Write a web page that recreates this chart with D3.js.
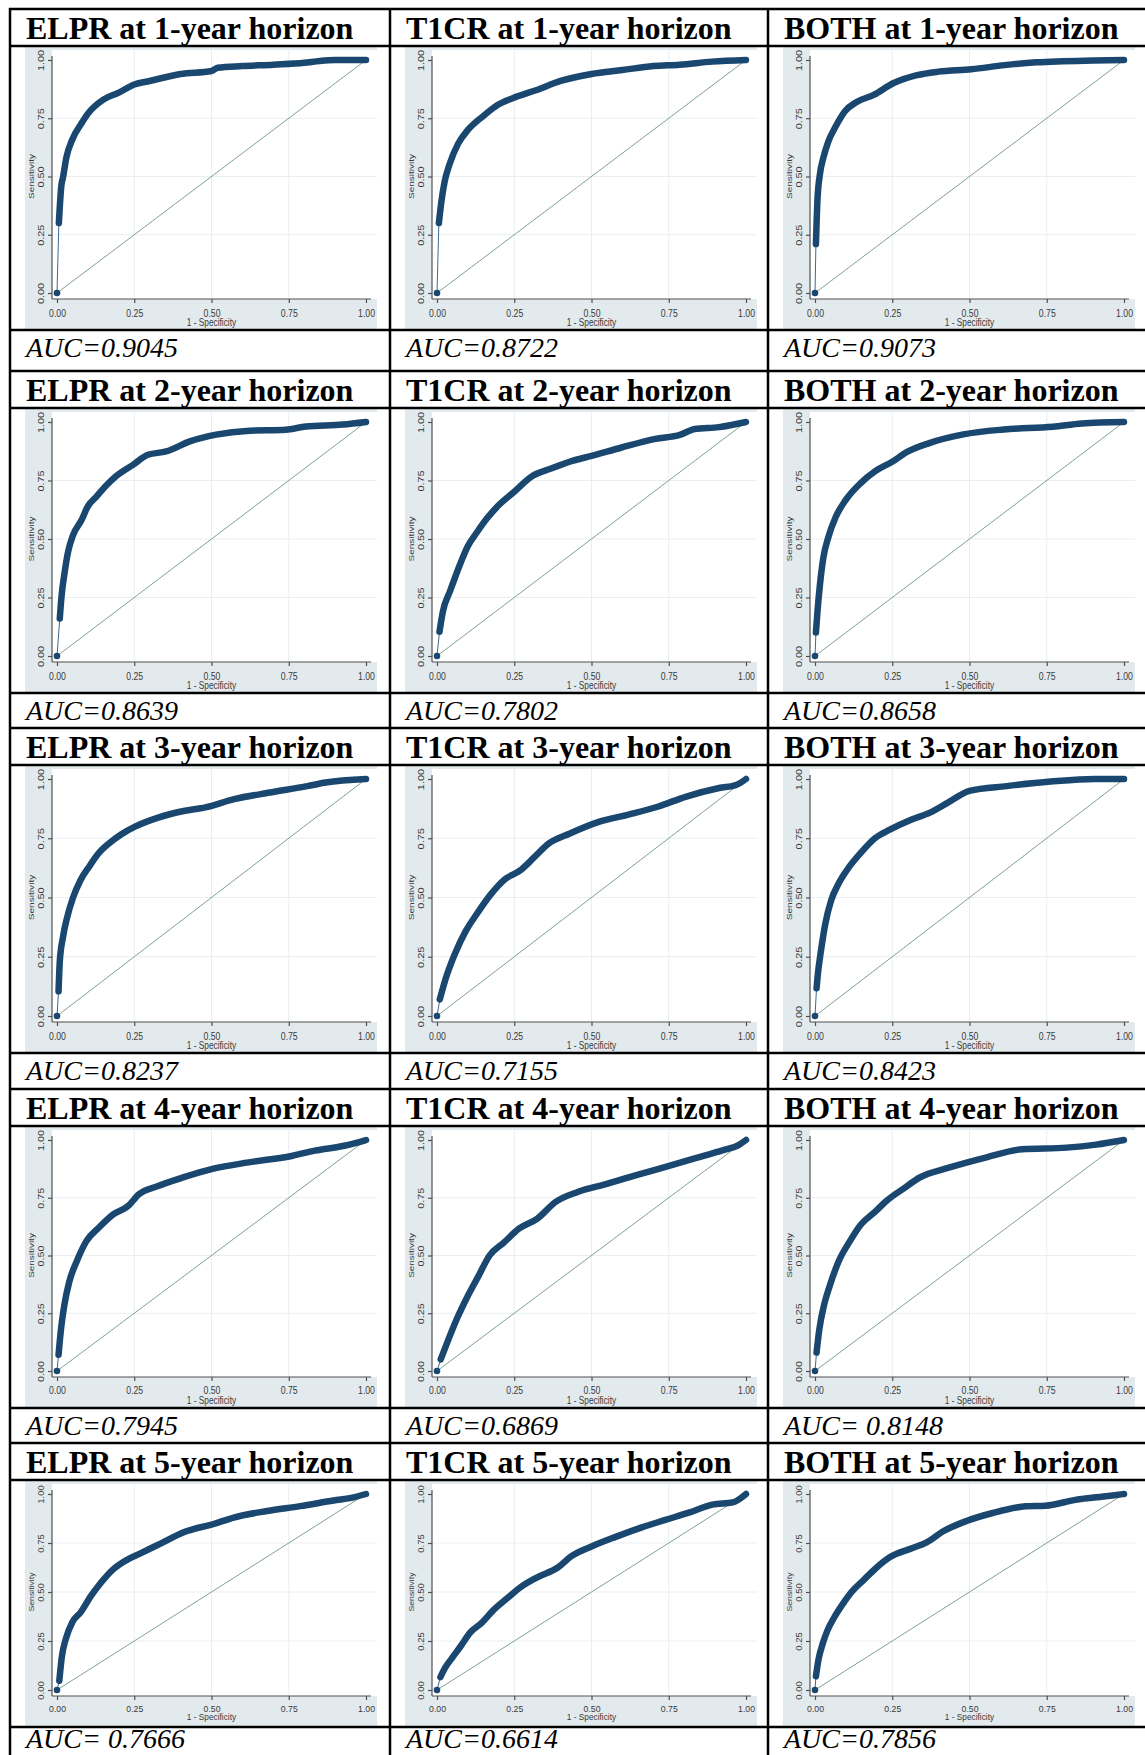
<!DOCTYPE html>
<html>
<head>
<meta charset="utf-8">
<script src="https://cdn.jsdelivr.net/npm/d3@7"></script>
<style>
  body { margin: 0; background: #fff; }
  svg { display: block; }
</style>
</head>
<body>
<div id="chart"></div>
<script>
// headings of the table
var models = ["ELPR", "T1CR", "BOTH"];
var horizons = [1, 2, 3, 4, 5];
var aucLabels = [
    "AUC=0.9045", "AUC=0.8722", "AUC=0.9073",
    "AUC=0.8639", "AUC=0.7802", "AUC=0.8658",
    "AUC=0.8237", "AUC=0.7155", "AUC=0.8423",
    "AUC=0.7945", "AUC=0.6869", "AUC= 0.8148",
    "AUC= 0.7666", "AUC=0.6614", "AUC=0.7856"
];
var tickValues = [0, 0.25, 0.5, 0.75, 1];
var tickLabels = ["0.00", "0.25", "0.50", "0.75", "1.00"];

// ROC curves, [1 - specificity, sensitivity]
var elpr1 = [[0,0],[0.006,0.30],[0.014,0.46],[0.02,0.50],[0.03,0.58],[0.05,0.66],[0.08,0.73],[0.10,0.77],[0.15,0.83],[0.20,0.86],[0.25,0.895],[0.30,0.91],[0.40,0.94],[0.50,0.953],[0.52,0.967],[0.60,0.974],[0.70,0.98],[0.80,0.988],[0.85,0.996],[0.90,1],[1,1]];
var t1cr1 = [[0,0],[0.006,0.30],[0.014,0.39],[0.025,0.48],[0.04,0.55],[0.068,0.64],[0.10,0.70],[0.15,0.76],[0.20,0.81],[0.245,0.836],[0.32,0.87],[0.40,0.91],[0.50,0.94],[0.60,0.957],[0.70,0.974],[0.785,0.98],[0.89,0.993],[1,1]];
var both1 = [[0,0],[0.003,0.21],[0.008,0.40],[0.016,0.51],[0.027,0.58],[0.043,0.65],[0.065,0.71],[0.097,0.78],[0.135,0.82],[0.19,0.85],[0.253,0.90],[0.33,0.935],[0.40,0.95],[0.506,0.96],[0.614,0.978],[0.717,0.99],[0.90,0.998],[1,1]];
var elpr2 = [[0,0],[0.009,0.16],[0.014,0.246],[0.025,0.36],[0.036,0.446],[0.052,0.517],[0.079,0.58],[0.10,0.64],[0.127,0.68],[0.16,0.73],[0.19,0.767],[0.246,0.817],[0.294,0.86],[0.353,0.874],[0.43,0.917],[0.515,0.946],[0.623,0.963],[0.74,0.967],[0.806,0.981],[0.925,0.989],[1,1]];
var t1cr2 = [[0,0],[0.008,0.104],[0.019,0.19],[0.043,0.28],[0.074,0.39],[0.10,0.47],[0.13,0.53],[0.16,0.585],[0.20,0.645],[0.248,0.70],[0.31,0.77],[0.367,0.80],[0.438,0.834],[0.50,0.855],[0.595,0.89],[0.707,0.928],[0.786,0.945],[0.834,0.97],[0.913,0.978],[1,1]];
var both2 = [[0,0],[0.003,0.10],[0.008,0.19],[0.016,0.305],[0.027,0.42],[0.043,0.507],[0.067,0.594],[0.099,0.666],[0.147,0.738],[0.195,0.79],[0.25,0.83],[0.298,0.872],[0.37,0.91],[0.48,0.947],[0.61,0.968],[0.77,0.98],[0.864,0.994],[1,1]];
var elpr3 = [[0,0],[0.005,0.104],[0.009,0.23],[0.019,0.33],[0.033,0.417],[0.052,0.50],[0.076,0.573],[0.104,0.63],[0.135,0.687],[0.17,0.73],[0.206,0.765],[0.254,0.80],[0.325,0.836],[0.41,0.865],[0.48,0.88],[0.573,0.915],[0.69,0.943],[0.81,0.97],[0.87,0.985],[1,1]];
var t1cr3 = [[0,0],[0.009,0.07],[0.028,0.157],[0.056,0.256],[0.092,0.356],[0.127,0.427],[0.174,0.513],[0.22,0.577],[0.268,0.613],[0.315,0.67],[0.36,0.726],[0.43,0.77],[0.526,0.82],[0.62,0.85],[0.714,0.883],[0.807,0.926],[0.913,0.962],[0.97,0.976],[1,1]];
var both3 = [[0,0],[0.005,0.117],[0.009,0.174],[0.019,0.273],[0.033,0.387],[0.052,0.487],[0.076,0.558],[0.111,0.63],[0.147,0.687],[0.194,0.75],[0.242,0.786],[0.313,0.829],[0.372,0.858],[0.43,0.90],[0.50,0.95],[0.62,0.97],[0.763,0.989],[0.905,1],[1,1]];
var elpr4 = [[0,0],[0.005,0.07],[0.012,0.17],[0.024,0.287],[0.04,0.388],[0.064,0.475],[0.095,0.562],[0.135,0.62],[0.182,0.678],[0.23,0.714],[0.265,0.765],[0.325,0.80],[0.408,0.838],[0.50,0.874],[0.62,0.903],[0.763,0.932],[0.834,0.954],[0.93,0.975],[1,1]];
var t1cr4 = [[0,0],[0.012,0.05],[0.033,0.123],[0.064,0.225],[0.10,0.326],[0.135,0.413],[0.17,0.50],[0.218,0.558],[0.265,0.616],[0.325,0.66],[0.384,0.732],[0.455,0.775],[0.55,0.81],[0.645,0.848],[0.74,0.884],[0.834,0.92],[0.929,0.957],[0.976,0.978],[1,1]];
var both4 = [[0,0],[0.005,0.08],[0.014,0.18],[0.029,0.284],[0.048,0.37],[0.076,0.473],[0.112,0.56],[0.148,0.633],[0.195,0.69],[0.23,0.735],[0.29,0.793],[0.338,0.837],[0.433,0.88],[0.552,0.924],[0.67,0.96],[0.814,0.967],[0.91,0.98],[1,1]];
var elpr5 = [[0,0],[0.0075,0.047],[0.015,0.163],[0.029,0.263],[0.05,0.347],[0.077,0.397],[0.11,0.48],[0.142,0.547],[0.18,0.613],[0.217,0.655],[0.27,0.697],[0.335,0.747],[0.41,0.805],[0.507,0.847],[0.572,0.88],[0.68,0.913],[0.787,0.938],[0.895,0.967],[0.96,0.983],[1,1]];
var t1cr5 = [[0,0],[0.011,0.066],[0.027,0.115],[0.049,0.164],[0.076,0.222],[0.109,0.296],[0.141,0.337],[0.185,0.411],[0.228,0.469],[0.272,0.526],[0.326,0.576],[0.391,0.625],[0.435,0.683],[0.50,0.732],[0.576,0.78],[0.663,0.83],[0.739,0.868],[0.815,0.905],[0.891,0.946],[0.957,0.957],[0.984,0.98],[1,1]];
var both5 = [[0,0],[0.003,0.07],[0.011,0.153],[0.025,0.237],[0.04,0.303],[0.062,0.37],[0.089,0.437],[0.12,0.503],[0.158,0.562],[0.196,0.62],[0.243,0.678],[0.308,0.72],[0.361,0.753],[0.415,0.81],[0.49,0.862],[0.575,0.903],[0.682,0.937],[0.746,0.94],[0.842,0.97],[0.949,0.99],[1,1]];

var curves = [elpr1, t1cr1, both1, elpr2, t1cr2, both2, elpr3, t1cr3, both3,
              elpr4, t1cr4, both4, elpr5, t1cr5, both5];

// table layout
var width = 1145, height = 1755;
var colX = [10, 390, 768, 1147];
var blockTop = [9, 371, 728, 1089, 1443, 1765];
var titleH = 37;
var imgH = [284, 285, 288, 282, 247];
var imgW = 352;

var navy = "#1a476f";

var svg = d3.select("#chart").append("svg")
    .attr("width", width)
    .attr("height", height);

svg.append("rect")
    .attr("width", width)
    .attr("height", height)
    .attr("fill", "#fff");

var line = d3.line().curve(d3.curveMonotoneX);

horizons.forEach(function(h, r) {
    models.forEach(function(m, c) {
        var i = r * 3 + c;
        var cellX = colX[c];
        var top = blockTop[r];
        var imgX = cellX + 15, imgY = top + titleH + 1, ih = imgH[r] - 2;
        var s = imgH[r] / 227; // the graphs are stretched vertically

        // title and AUC text
        svg.append("text")
            .attr("x", cellX + 16)
            .attr("y", top + 30)
            .style("font-family", "'Liberation Serif', 'Times New Roman', serif")
            .style("font-weight", "bold")
            .style("font-size", "32px")
            .text(m + " at " + h + "-year horizon");

        svg.append("text")
            .attr("x", cellX + 16)
            .attr("y", Math.min(top + titleH + imgH[r] + 27, height - 7))
            .attr("xml:space", "preserve")
            .style("white-space", "pre")
            .style("font-family", "'Liberation Serif', 'Times New Roman', serif")
            .style("font-style", "italic")
            .style("font-size", "28px")
            .text(aucLabels[i]);

        // the graph
        var g = svg.append("g")
            .attr("transform", "translate(" + imgX + "," + imgY + ")");

        var clipId = "clip" + i;
        g.append("clipPath").attr("id", clipId)
            .append("rect").attr("width", imgW).attr("height", ih);
        g = g.append("g").attr("clip-path", "url(#" + clipId + ")");

        var xs = d3.scaleLinear().domain([0, 1]).range([32, 341]);
        var ys = d3.scaleLinear().domain([0, 1]).range([ih - 36, 13]);
        var axisX = 27, axisY = ys(0) + 6;

        g.append("rect")
            .attr("width", imgW).attr("height", ih)
            .attr("fill", "#e3eaee");
        g.append("rect")
            .attr("x", axisX).attr("y", 3)
            .attr("width", imgW - axisX).attr("height", axisY - 3)
            .attr("fill", "#fff");

        // faint grid
        g.selectAll(".gy").data(tickValues.slice(1, 4)).enter().append("line")
            .attr("x1", axisX).attr("x2", imgW)
            .attr("y1", function(d) { return ys(d); })
            .attr("y2", function(d) { return ys(d); })
            .attr("stroke", "#eaeef0").attr("stroke-width", 1);
        g.selectAll(".gx").data(tickValues.slice(1, 4)).enter().append("line")
            .attr("y1", 3).attr("y2", axisY)
            .attr("x1", function(d) { return xs(d); })
            .attr("x2", function(d) { return xs(d); })
            .attr("stroke", "#eaeef0").attr("stroke-width", 1);

        // axes
        var yAxis = d3.axisLeft(ys).tickValues(tickValues).tickSize(4)
            .tickFormat(function(d, k) { return tickLabels[k]; });
        var ya = g.append("g").attr("transform", "translate(" + axisX + ",0)").call(yAxis);
        ya.select(".domain").remove();
        ya.selectAll("line").attr("stroke", "#505050").attr("stroke-width", 1.2);
        ya.selectAll("text")
            .attr("x", null).attr("dy", null)
            .attr("text-anchor", "middle")
            .attr("transform", "translate(-8,0) scale(1," + s + ") rotate(-90)")
            .attr("fill", "#3a3a3a")
            .style("font-family", "'Liberation Sans', Arial, sans-serif")
            .style("font-size", "8.7px");

        var xAxis = d3.axisBottom(xs).tickValues(tickValues).tickSize(4)
            .tickFormat(function(d, k) { return tickLabels[k]; });
        var xa = g.append("g").attr("transform", "translate(0," + axisY + ")").call(xAxis);
        xa.select(".domain").remove();
        xa.selectAll("line").attr("stroke", "#505050").attr("stroke-width", 1.2);
        xa.selectAll("text")
            .attr("y", null).attr("dy", null)
            .attr("transform", "translate(0," + (5 + 10 * s) + ") scale(1," + s + ")")
            .attr("fill", "#3a3a3a")
            .style("font-family", "'Liberation Sans', Arial, sans-serif")
            .style("font-size", "8.7px");

        g.append("line")
            .attr("x1", axisX).attr("x2", axisX)
            .attr("y1", ys(1) - 4).attr("y2", axisY)
            .attr("stroke", "#505050").attr("stroke-width", 1.2);
        g.append("line")
            .attr("x1", axisX).attr("x2", xs(1) + 5)
            .attr("y1", axisY).attr("y2", axisY)
            .attr("stroke", "#505050").attr("stroke-width", 1.2);

        g.append("text")
            .attr("text-anchor", "middle")
            .attr("transform", "translate(" + (axisX - 18) + "," + ((ys(0) + ys(1)) / 2) + ") scale(1," + s + ") rotate(-90)")
            .attr("fill", "#3a3a3a")
            .style("font-family", "'Liberation Sans', Arial, sans-serif")
            .style("font-size", "8px")
            .text("Sensitivity");
        g.append("text")
            .attr("text-anchor", "middle")
            .attr("transform", "translate(" + ((xs(0) + xs(1)) / 2) + "," + (axisY + 5 + 17.5 * s) + ") scale(1," + s + ")")
            .attr("fill", "#3a3a3a")
            .style("font-family", "'Liberation Sans', Arial, sans-serif")
            .style("font-size", "8.3px")
            .text("1 - Specificity");

        // reference diagonal
        g.append("line")
            .attr("x1", xs(0)).attr("y1", ys(0))
            .attr("x2", xs(1)).attr("y2", ys(1))
            .attr("stroke", "#7fa38f").attr("stroke-width", 1);

        // ROC curve
        line.x(function(d) { return xs(d[0]); }).y(function(d) { return ys(d[1]); });
        var pts = curves[i];
        g.append("path")
            .attr("d", line(pts.slice(0, 2)))
            .attr("fill", "none")
            .attr("stroke", "#3d6a92").attr("stroke-width", 1);
        g.append("path")
            .attr("d", line(pts.slice(1)))
            .attr("fill", "none")
            .attr("stroke", navy)
            .attr("stroke-width", 6.5)
            .attr("stroke-linejoin", "round")
            .attr("stroke-linecap", "round");
        g.append("circle")
            .attr("cx", xs(pts[0][0])).attr("cy", ys(pts[0][1]))
            .attr("r", 3.3)
            .attr("fill", navy);
    });
});

// table rules
var hLines = [];
blockTop.slice(0, 5).forEach(function(t, r) {
    hLines.push(t, t + titleH, t + titleH + imgH[r]);
});
svg.selectAll(".hr").data(hLines).enter().append("line")
    .attr("x1", colX[0] - 1).attr("x2", colX[3] + 1)
    .attr("y1", function(d) { return d; })
    .attr("y2", function(d) { return d; })
    .attr("stroke", "#000").attr("stroke-width", 2.5);
svg.selectAll(".vr").data(colX).enter().append("line")
    .attr("y1", blockTop[0] - 1).attr("y2", blockTop[5])
    .attr("x1", function(d) { return d; })
    .attr("x2", function(d) { return d; })
    .attr("stroke", "#000").attr("stroke-width", 2.5);
</script>
</body>
</html>
